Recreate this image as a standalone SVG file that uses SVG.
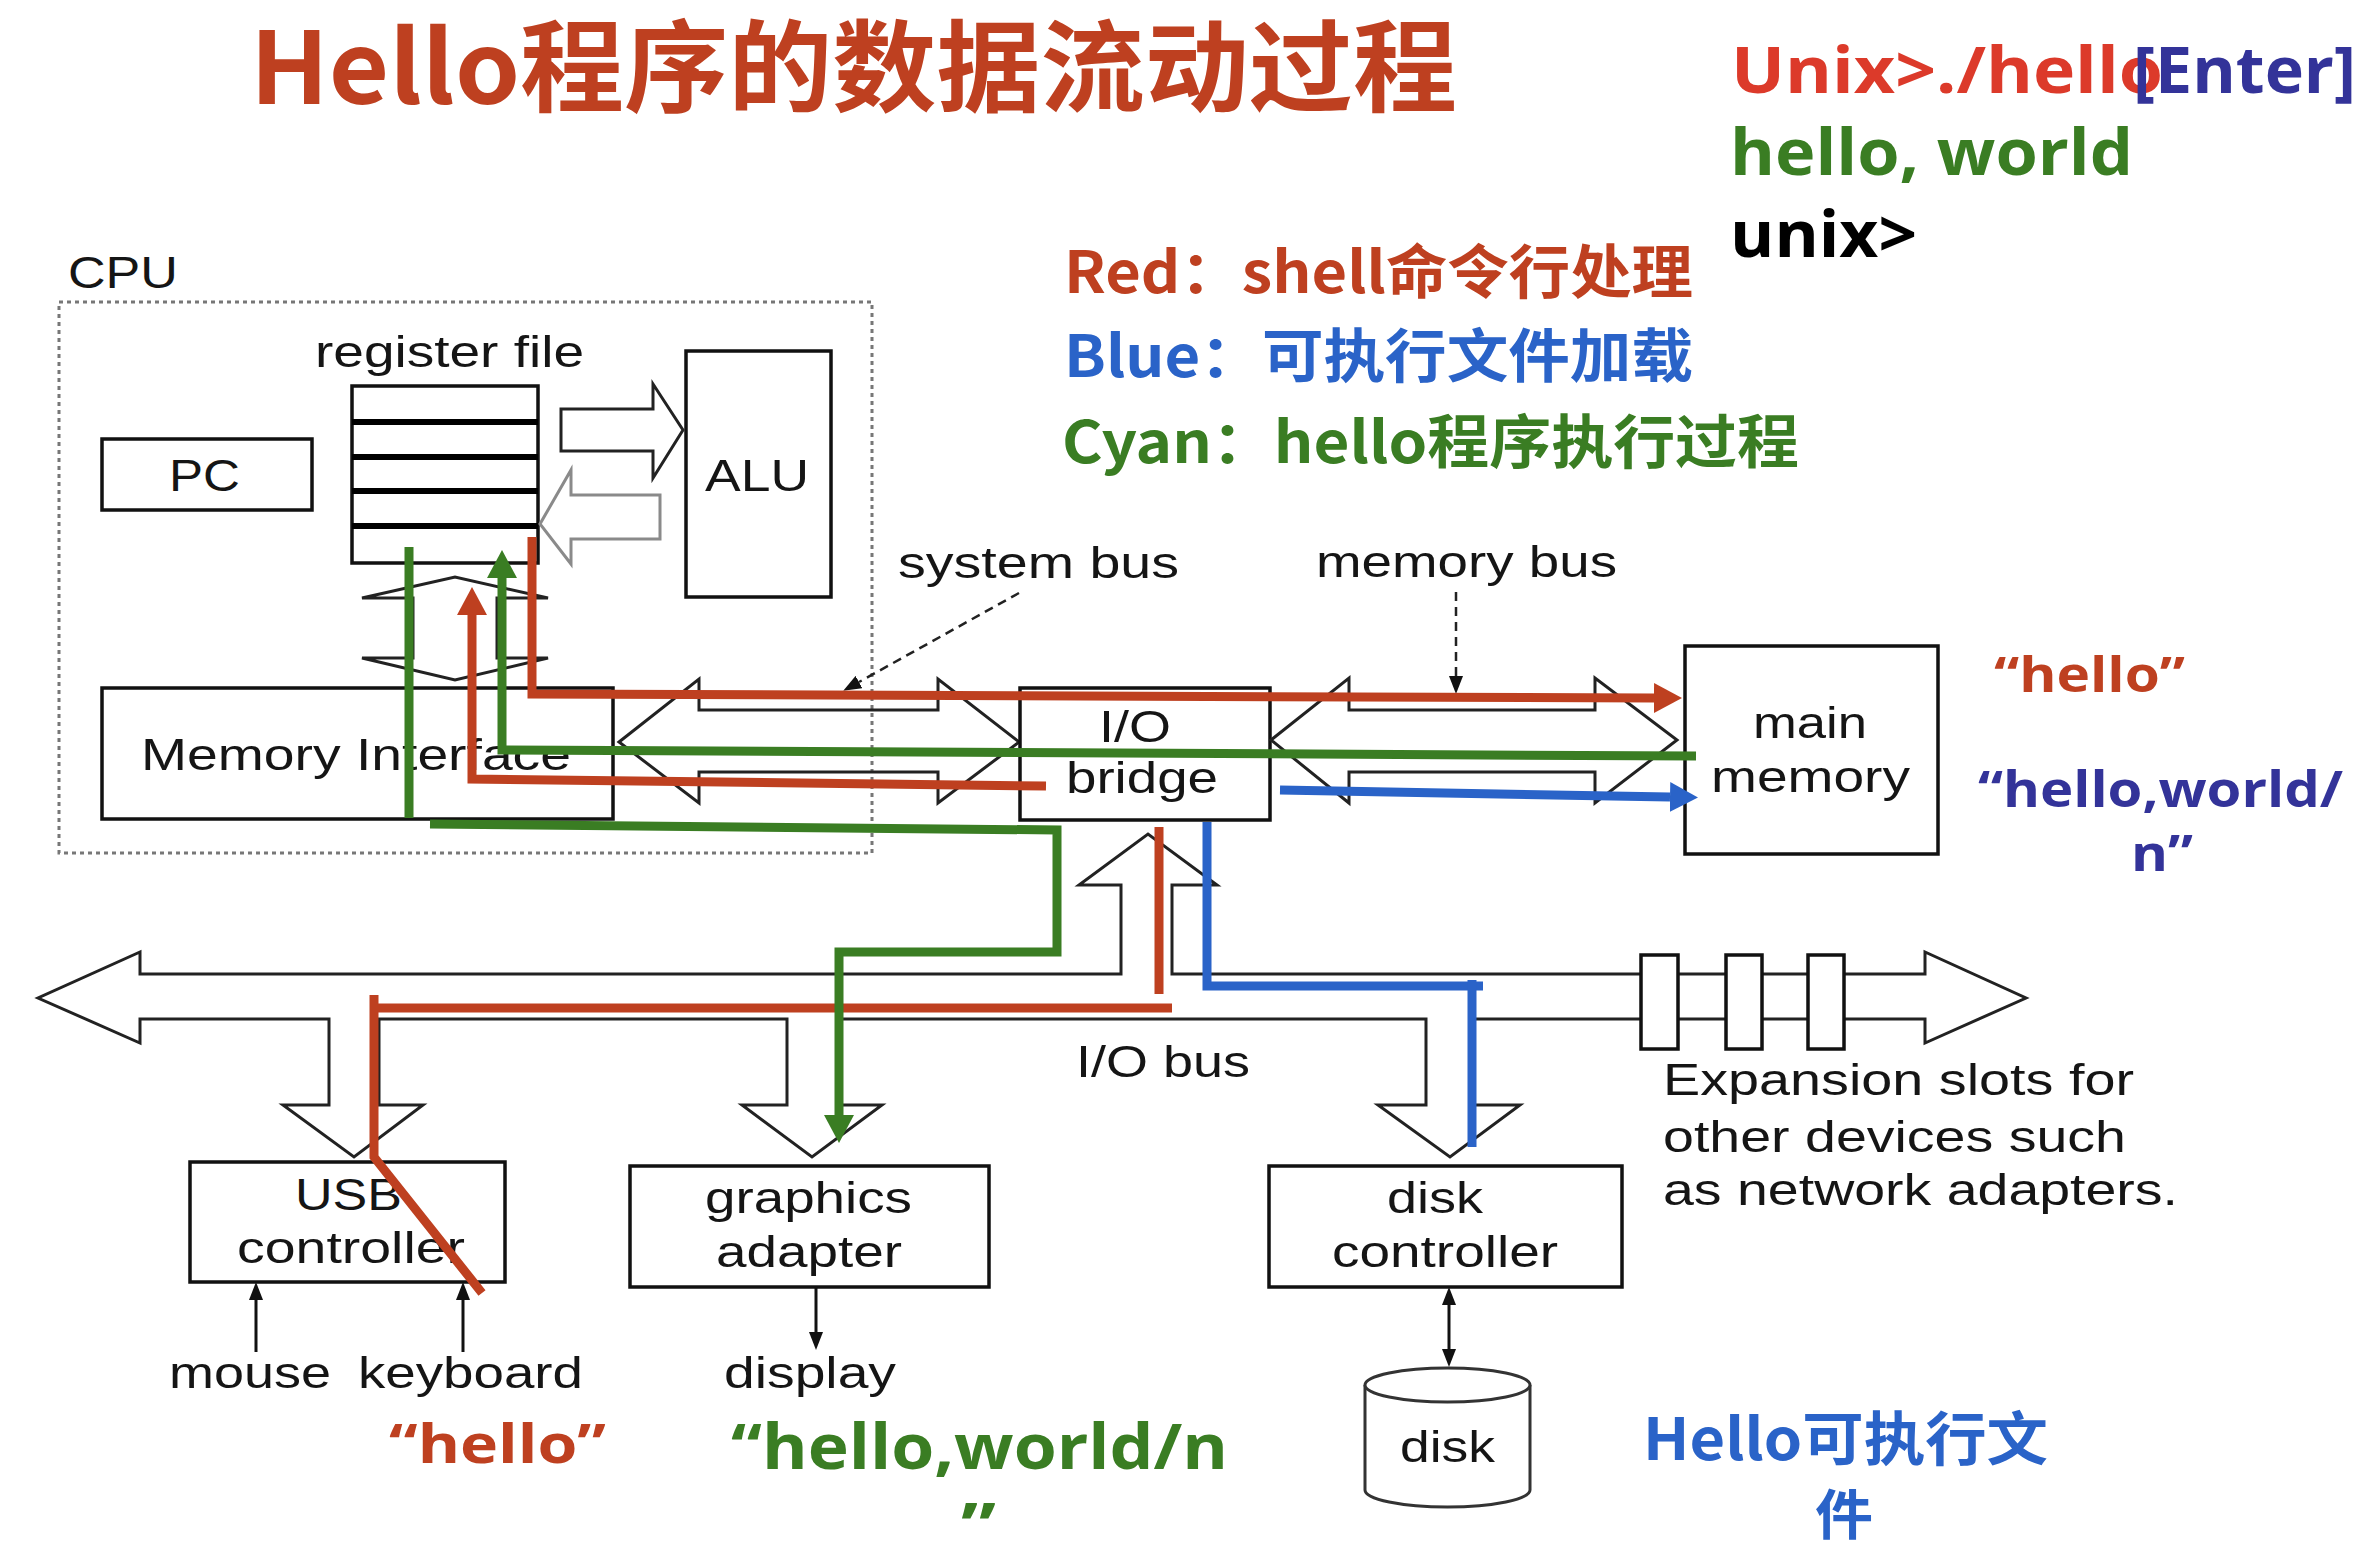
<svg xmlns="http://www.w3.org/2000/svg" width="2362" height="1562" viewBox="0 0 2362 1562">
<defs>
<style>
.lbl{font-family:"Liberation Sans",Arial,sans-serif;font-size:44px;fill:#151515}
.box{fill:#fff;stroke:#111;stroke-width:3.5}
.shape{fill:none;stroke:#222;stroke-width:3;stroke-linejoin:miter}
.gray{stroke:#8a8a8a}
.bd{font-family:"Open Sans","Noto Sans",sans-serif;font-weight:700}
.cjk{font-family:"Noto Sans CJK SC","Noto Sans",sans-serif;font-weight:700}
.ln{fill:none;stroke-width:9;stroke-linejoin:miter;stroke-linecap:butt}
.lr{stroke:#BE4020}
.lg{stroke:#3A7D23}
.lb{stroke:#2A63C8}
.thin{fill:none;stroke:#111;stroke-width:3}
.dash{fill:none;stroke:#222;stroke-width:2.5;stroke-dasharray:9 6}
</style>
<marker id="ah-red" markerUnits="userSpaceOnUse" viewBox="0 0 28 30" markerWidth="28" markerHeight="30" refX="0" refY="15" orient="auto"><path d="M0,0 L28,15 L0,30 Z" fill="#BE4020"/></marker>
<marker id="ah-green" markerUnits="userSpaceOnUse" viewBox="0 0 28 30" markerWidth="28" markerHeight="30" refX="0" refY="15" orient="auto"><path d="M0,0 L28,15 L0,30 Z" fill="#3A7D23"/></marker>
<marker id="ah-blue" markerUnits="userSpaceOnUse" viewBox="0 0 28 30" markerWidth="28" markerHeight="30" refX="0" refY="15" orient="auto"><path d="M0,0 L28,15 L0,30 Z" fill="#2A63C8"/></marker>
<marker id="ah-k" markerUnits="userSpaceOnUse" viewBox="0 0 18 14" markerWidth="18" markerHeight="14" refX="0" refY="7" orient="auto-start-reverse"><path d="M0,0 L18,7 L0,14 Z" fill="#111"/></marker>
</defs>
<rect width="2362" height="1562" fill="#fff"/>

<g id="title">
<text class="cjk" x="250" y="104" font-size="100" textLength="1207" lengthAdjust="spacingAndGlyphs" fill="#BE4020">Hello程序的数据流动过程</text>
</g>

<g id="terminal">
<text class="bd" x="1731" y="93" font-size="64" textLength="432" lengthAdjust="spacingAndGlyphs" fill="#DC3A2A">Unix&gt;./hello</text>
<text class="bd" x="2133" y="93" font-size="64" textLength="223" lengthAdjust="spacingAndGlyphs" fill="#333399">[Enter]</text>
<text class="bd" x="1730" y="175" font-size="64" textLength="403" lengthAdjust="spacingAndGlyphs" fill="#3A7D23">hello, world</text>
<text class="bd" x="1730" y="257" font-size="64" textLength="187" lengthAdjust="spacingAndGlyphs" fill="#000">unix&gt;</text>
</g>

<g id="legend">
<text class="cjk" x="1064" y="293" font-size="58" textLength="629" lengthAdjust="spacingAndGlyphs" fill="#BE4020">Red：shell命令行处理</text>
<text class="cjk" x="1064" y="377" font-size="58" textLength="629" lengthAdjust="spacingAndGlyphs" fill="#2A63C8">Blue：可执行文件加载</text>
<text class="cjk" x="1062" y="463" font-size="58" textLength="737" lengthAdjust="spacingAndGlyphs" fill="#3A7D23">Cyan：hello程序执行过程</text>
</g>

<g id="cpu">
<rect x="59" y="302" width="813" height="551" fill="none" stroke="#777" stroke-width="3" stroke-dasharray="4 4"/>
<text class="lbl" x="68" y="288" font-size="46" textLength="110" lengthAdjust="spacingAndGlyphs">CPU</text>
</g>

<g id="pc">
<rect class="box" x="102" y="439" width="210" height="71"/>
<text class="lbl" x="169" y="491" font-size="46" textLength="71" lengthAdjust="spacingAndGlyphs">PC</text>
</g>

<g id="register-file">
<text class="lbl" x="315" y="367" textLength="269" lengthAdjust="spacingAndGlyphs">register file</text>
<rect class="box" x="352" y="386" width="186" height="177"/>
<path d="M352,422 H538 M352,457 H538 M352,491 H538 M352,526 H538" stroke="#000" stroke-width="6"/>
</g>

<g id="alu">
<rect class="box" x="686" y="351" width="145" height="246"/>
<text class="lbl" x="705" y="491" font-size="46" textLength="104" lengthAdjust="spacingAndGlyphs">ALU</text>
</g>

<g id="cpu-internal-arrows">
<path class="shape" d="M561,409 H653 V384 L683,430 L653,478 V451 H561 Z"/>
<path class="shape gray" d="M660,495 H571 V470 L540,524 L571,564 V539 H660 Z"/>
<path class="shape" d="M362,598 L455,577 L548,598 H497 V658 H548 L455,680 L362,658 H413 V598 Z"/>
</g>

<g id="memory-interface">
<rect class="box" x="102" y="688" width="511" height="131"/>
<text class="lbl" x="141" y="770" font-size="47" textLength="430" lengthAdjust="spacingAndGlyphs">Memory Interface</text>
</g>

<g id="system-bus">
<path class="shape" d="M619,742 L699,679 V710 H938 V679 L1019,742 L938,803 V772 H699 V803 Z"/>
<text class="lbl" x="898" y="578" textLength="281" lengthAdjust="spacingAndGlyphs">system bus</text>
<path class="dash" d="M1019,593 L859,682" marker-end="url(#ah-k)"/>
</g>

<g id="io-bridge">
<rect class="box" x="1020" y="688" width="250" height="132"/>
<text class="lbl" x="1099" y="742" textLength="72" lengthAdjust="spacingAndGlyphs">I/O</text>
<text class="lbl" x="1066" y="793" textLength="152" lengthAdjust="spacingAndGlyphs">bridge</text>
</g>

<g id="memory-bus">
<path class="shape" d="M1271,740 L1349,678 V710 H1595 V678 L1677,740 L1595,803 V772 H1349 V803 Z"/>
<text class="lbl" x="1316" y="577" textLength="301" lengthAdjust="spacingAndGlyphs">memory bus</text>
<path class="dash" d="M1456,592 V676" marker-end="url(#ah-k)"/>
</g>

<g id="main-memory">
<rect class="box" x="1685" y="646" width="253" height="208"/>
<text class="lbl" x="1753" y="738" textLength="114" lengthAdjust="spacingAndGlyphs">main</text>
<text class="lbl" x="1711" y="792" textLength="199" lengthAdjust="spacingAndGlyphs">memory</text>
</g>

<g id="io-bus">
<path class="shape" d="M140,974 H1121 V885 H1079 L1148,834 L1217,885 H1172 V974 H1925 V952 L2026,998 L1925,1043 V1019 H1474 V1105 H1520 L1450,1157 L1378,1105 H1426 V1019 H837 V1105 H882 L812,1157 L742,1105 H787 V1019 H379 V1105 H423 L354,1157 L283,1105 H329 V1019 H140 V1043 L38,998 L140,952 Z"/>
<rect x="1641" y="955" width="37" height="94" fill="#fff" stroke="#111" stroke-width="3.5"/>
<rect x="1726" y="955" width="36" height="94" fill="#fff" stroke="#111" stroke-width="3.5"/>
<rect x="1808" y="955" width="36" height="94" fill="#fff" stroke="#111" stroke-width="3.5"/>
<text class="lbl" x="1076" y="1077" textLength="174" lengthAdjust="spacingAndGlyphs">I/O bus</text>
<text class="lbl" x="1663" y="1095" font-size="42" textLength="471" lengthAdjust="spacingAndGlyphs">Expansion slots for</text>
<text class="lbl" x="1663" y="1152" font-size="42" textLength="463" lengthAdjust="spacingAndGlyphs">other devices such</text>
<text class="lbl" x="1663" y="1205" font-size="42" textLength="515" lengthAdjust="spacingAndGlyphs">as network adapters.</text>
</g>

<g id="usb-controller">
<rect class="box" x="190" y="1162" width="315" height="120"/>
<text class="lbl" x="295" y="1210" textLength="107" lengthAdjust="spacingAndGlyphs">USB</text>
<text class="lbl" x="237" y="1263" textLength="228" lengthAdjust="spacingAndGlyphs">controller</text>
</g>

<g id="mouse">
<text class="lbl" x="169" y="1388" textLength="162" lengthAdjust="spacingAndGlyphs">mouse</text>
</g>
<g id="keyboard">
<text class="lbl" x="358" y="1388" textLength="225" lengthAdjust="spacingAndGlyphs">keyboard</text>
</g>

<g id="graphics-adapter">
<rect class="box" x="630" y="1166" width="359" height="121"/>
<text class="lbl" x="705" y="1213" textLength="207" lengthAdjust="spacingAndGlyphs">graphics</text>
<text class="lbl" x="716" y="1267" textLength="186" lengthAdjust="spacingAndGlyphs">adapter</text>
</g>

<g id="display">
<text class="lbl" x="724" y="1388" textLength="172" lengthAdjust="spacingAndGlyphs">display</text>
</g>

<g id="disk-controller">
<rect class="box" x="1269" y="1166" width="353" height="121"/>
<text class="lbl" x="1387" y="1213" textLength="96" lengthAdjust="spacingAndGlyphs">disk</text>
<text class="lbl" x="1332" y="1267" textLength="226" lengthAdjust="spacingAndGlyphs">controller</text>
</g>

<g id="disk">
<path d="M1365,1385 V1490 A82.5,17 0 0 0 1530,1490 V1385" fill="#fff" stroke="#333" stroke-width="3"/>
<ellipse cx="1447.5" cy="1385" rx="82.5" ry="17" fill="#fff" stroke="#333" stroke-width="3"/>
<text class="lbl" x="1400" y="1462" textLength="95" lengthAdjust="spacingAndGlyphs">disk</text>
</g>

<g id="device-links">
<path class="thin" d="M256,1352 V1300" marker-end="url(#ah-k)"/>
<path class="thin" d="M463,1352 V1300" marker-end="url(#ah-k)"/>
<path class="thin" d="M816,1287 V1332" marker-end="url(#ah-k)"/>
<path class="thin" d="M1449,1305 V1349" marker-start="url(#ah-k)" marker-end="url(#ah-k)"/>
</g>

<g id="connectors">
<path class="ln lr" d="M532,537 V694 L1654,698" marker-end="url(#ah-red)"/>
<path class="ln lr" d="M1046,786 L472,779 V615" marker-end="url(#ah-red)"/>
<path class="ln lr" d="M482,1293 L374,1157 V995"/>
<path class="ln lr" d="M370,1008 H1172"/>
<path class="ln lr" d="M1159,827 V994"/>
<path class="ln lg" d="M1696,756 L502,750 V578" marker-end="url(#ah-green)"/>
<path class="ln lg" d="M409,547 V818"/>
<path class="ln lg" d="M430,824 L1057,830 V952 H839 V1115" marker-end="url(#ah-green)"/>
<path class="ln lb" d="M1207,822 V986 H1483"/>
<path class="ln lb" d="M1472,980 V1147"/>
<path class="ln lb" stroke-width="10" d="M1280,790 L1670,797" marker-end="url(#ah-blue)"/>
</g>

<g id="annotations">
<text class="bd" x="1994" y="692" font-size="48" textLength="191" lengthAdjust="spacingAndGlyphs" fill="#BE4020">“hello”</text>
<text class="bd" x="1978" y="807" font-size="50" textLength="365" lengthAdjust="spacingAndGlyphs" fill="#333399">“hello,world/</text>
<text class="bd" x="2131" y="871" font-size="50" textLength="62" lengthAdjust="spacingAndGlyphs" fill="#333399">n”</text>
<text class="bd" x="389" y="1463" font-size="54" textLength="217" lengthAdjust="spacingAndGlyphs" fill="#BE4020">“hello”</text>
<text class="bd" x="731" y="1469" font-size="62" textLength="497" lengthAdjust="spacingAndGlyphs" fill="#3A7D23">“hello,world/n</text>
<text class="bd" x="961" y="1548" font-size="62" textLength="35" lengthAdjust="spacingAndGlyphs" fill="#3A7D23">”</text>
<text class="cjk" x="1643" y="1460" font-size="58" textLength="405" lengthAdjust="spacingAndGlyphs" fill="#2A63C8">Hello可执行文</text>
<text class="cjk" x="1815" y="1535" font-size="54" textLength="58" lengthAdjust="spacingAndGlyphs" fill="#2A63C8">件</text>
</g>
</svg>
